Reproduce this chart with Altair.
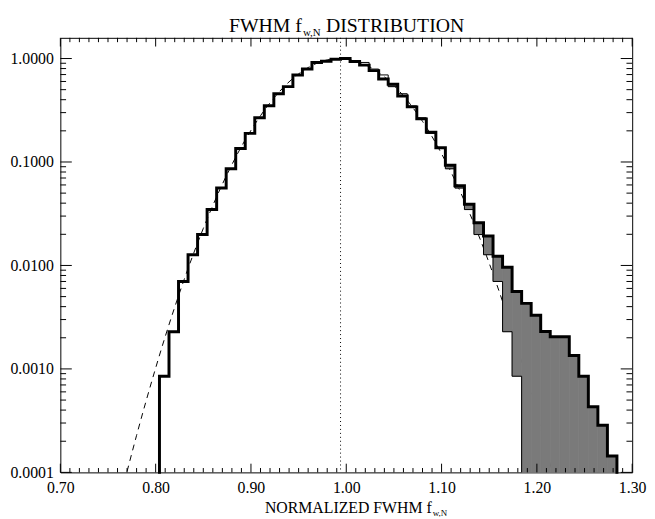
import altair as alt
import pandas as pd

# ---------------- data ----------------
# histogram bins: 0.01 wide, left edges starting at 0.804
bin_edges = [round(0.804 + 0.01 * i, 3) for i in range(49)]

# thick histogram (observed), one value per bin
counts_all = [
    8.5e-4, 2.29e-3, 7.0e-3, 0.0127, 0.0199, 0.0347, 0.056, 0.086, 0.135, 0.189,
    0.268, 0.349, 0.457, 0.535, 0.694, 0.791, 0.916, 0.94, 0.985,
    1.0, 0.936, 0.863, 0.764, 0.635, 0.565, 0.435, 0.341, 0.261, 0.194,
    0.137, 0.093, 0.059, 0.039, 0.0259, 0.0193, 0.0123, 0.0096, 0.0056, 0.0043,
    0.0033, 0.0023, 0.00205, 0.00205, 0.00135, 0.00085, 0.00043, 0.000285, 0.000144,
]

# thin histogram (mirrored left half) on the right side, bins 19..37
mirror_start = 19
counts_mirror = [
    0.985, 0.94, 0.916, 0.791, 0.694, 0.535, 0.457, 0.349, 0.268, 0.189,
    0.135, 0.086, 0.056, 0.0347, 0.0199, 0.0127, 0.007, 0.00229, 0.00085,
]

# dashed gaussian curve
gauss_x = [0.770, 0.780, 0.790, 0.800, 0.810, 0.820, 0.830, 0.840, 0.850, 0.860,
           0.870, 0.880, 0.890, 0.900, 0.910, 0.920, 0.930, 0.940, 0.950, 0.960,
           0.970, 0.980, 0.990, 0.993, 1.000, 1.010, 1.020, 1.030, 1.040, 1.050,
           1.060, 1.070, 1.080, 1.090, 1.100, 1.110, 1.120, 1.130, 1.140, 1.150,
           1.160, 1.170, 1.180, 1.190, 1.200, 1.210, 1.216]
gauss_y = [1.02e-4, 2.28e-4, 4.91e-4, 1.02e-3, 2.05e-3, 3.95e-3, 7.35e-3, 0.0132, 0.0228, 0.0380,
           0.0610, 0.0943, 0.141, 0.202, 0.280, 0.373, 0.480, 0.595, 0.710, 0.818,
           0.907, 0.969, 0.998, 1.0, 0.991, 0.948, 0.874, 0.776, 0.665, 0.548,
           0.436, 0.334, 0.247, 0.176, 0.120, 0.0796, 0.0507, 0.0311, 0.0184, 0.0105,
           0.00576, 0.00305, 0.00156, 7.65e-4, 3.62e-4, 1.66e-4, 1.02e-4]

peak_x = [0.994]

x_labels = [0.70, 0.80, 0.90, 1.00, 1.10, 1.20, 1.30]
y_labels = [0.0001, 0.001, 0.01, 0.1, 1.0]

title_parts = ["FWHM f", "w,N", "DISTRIBUTION"]
xtitle_parts = ["NORMALIZED FWHM f", "w,N"]

# ---------------- layout ----------------
FLOOR = 1e-4
YMAX = 1.585
W, H = 579, 440
FONT = "Liberation Serif"
HATCH = "#7a7a7a"

xs = alt.Scale(domain=[0.70, 1.30], nice=False, zero=False)
ys = alt.Scale(type="log", domain=[FLOOR, YMAX], nice=False)

x_minor = [round(0.70 + 0.01 * i, 2) for i in range(61) if i % 10 != 0]
y_minor = [m * 10.0 ** e for e in range(-4, 1) for m in range(2, 10) if m * 10.0 ** e < YMAX]

x_axis = alt.Axis(values=x_labels, format=".2f", ticks=False, domain=False, grid=False,
                  labelFont=FONT, labelFontSize=16, labelColor="black", labelPadding=7,
                  labelFlush=False, labelOverlap=False, title=None)
y_axis = alt.Axis(values=y_labels, format=".4f", ticks=False, domain=False, grid=False,
                  labelFont=FONT, labelFontSize=16, labelColor="black", labelPadding=7,
                  labelFlush=False, labelOverlap=False, title=None)


def X(field):
    return alt.X(field, scale=xs, axis=x_axis)


def Y(field):
    return alt.Y(field, scale=ys, axis=y_axis)


# thick step line
rows_a = [{"x": bin_edges[0], "y": FLOOR, "o": 0}]
rows_a += [{"x": bin_edges[k], "y": counts_all[k], "o": k + 1} for k in range(len(counts_all))]
rows_a.append({"x": bin_edges[len(counts_all)], "y": FLOOR, "o": len(counts_all) + 1})
df_a = pd.DataFrame(rows_a)

# thin mirrored step line
rows_b = [{"x": bin_edges[mirror_start + j], "y": counts_mirror[j], "o": j} for j in range(len(counts_mirror))]
rows_b.append({"x": bin_edges[mirror_start + len(counts_mirror)], "y": FLOOR, "o": len(counts_mirror)})
df_b = pd.DataFrame(rows_b)

# excess region (thick above thin)
rows_h = []
for k in range(mirror_start, len(counts_all)):
    j = k - mirror_start
    low = counts_mirror[j] if j < len(counts_mirror) else FLOOR
    if counts_all[k] > low:
        rows_h.append({"x": bin_edges[k], "x2": bin_edges[k + 1], "y": low, "y2": counts_all[k]})
df_h = pd.DataFrame(rows_h)

df_g = pd.DataFrame({"x": gauss_x, "y": gauss_y})
df_p = pd.DataFrame({"x": peak_x})
dummy = pd.DataFrame({"d": [0]})

gauss = alt.Chart(df_g).mark_line(color="black", strokeWidth=1, strokeDash=[6, 5],
                                   interpolate="monotone").encode(x=X("x:Q"), y=Y("y:Q"))

hatch = alt.Chart(df_h).mark_rect(color=HATCH, stroke=HATCH, strokeWidth=0.8).encode(
    x=X("x:Q"), x2="x2:Q", y=Y("y:Q"), y2="y2:Q")

peak = alt.Chart(df_p).mark_rule(color="black", strokeWidth=1, strokeDash=[1, 3]).encode(x=X("x:Q"))

line_b = alt.Chart(df_b).mark_line(color="black", strokeWidth=1, interpolate="step-after").encode(
    x=X("x:Q"), y=Y("y:Q"), order="o:Q")

line_a = alt.Chart(df_a).mark_line(color="black", strokeWidth=3, interpolate="step-after",
                                   strokeJoin="miter", strokeCap="square").encode(
    x=X("x:Q"), y=Y("y:Q"), order="o:Q")


def xticks(vals, length):
    d = pd.DataFrame({"x": vals})
    base = alt.Chart(d).mark_rule(color="black", strokeWidth=1)
    bottom = base.encode(x=X("x:Q"), y=alt.value(H), y2=alt.value(H - length))
    top = base.encode(x=X("x:Q"), y=alt.value(0), y2=alt.value(length))
    return [bottom, top]


def yticks(vals, length):
    d = pd.DataFrame({"y": vals})
    base = alt.Chart(d).mark_rule(color="black", strokeWidth=1)
    left = base.encode(y=Y("y:Q"), x=alt.value(0), x2=alt.value(length))
    right = base.encode(y=Y("y:Q"), x=alt.value(W), x2=alt.value(W - length))
    return [left, right]


ticks = xticks(x_labels, 8.8) + xticks(x_minor, 4.4) + yticks(y_labels, 11.6) + yticks(y_minor, 5.8)


def txt(s, size, align, x, y):
    return alt.Chart(dummy).mark_text(text=s, font=FONT, fontSize=size, align=align,
                                      baseline="alphabetic", color="black").encode(
        x=alt.value(x), y=alt.value(y))


titles = [
    txt(title_parts[0], 20, "right", 244.6, -6),
    txt(title_parts[1], 11, "left", 245.6, -2),
    txt(title_parts[2], 20, "left", 269, -6),
    txt(xtitle_parts[0], 16, "right", 376, 481),
    txt(xtitle_parts[1], 9, "left", 377, 484),
]

chart = alt.layer(gauss, hatch, peak, line_b, line_a, *ticks, *titles).properties(
    width=W, height=H,
    autosize=alt.AutoSizeParams(type="none"),
    padding={"left": 53, "top": 27, "right": 15, "bottom": 44},
    background="white",
).configure_view(stroke="black", strokeWidth=1)

chart.save("out.html", embed_options={"renderer": "svg", "actions": False})
